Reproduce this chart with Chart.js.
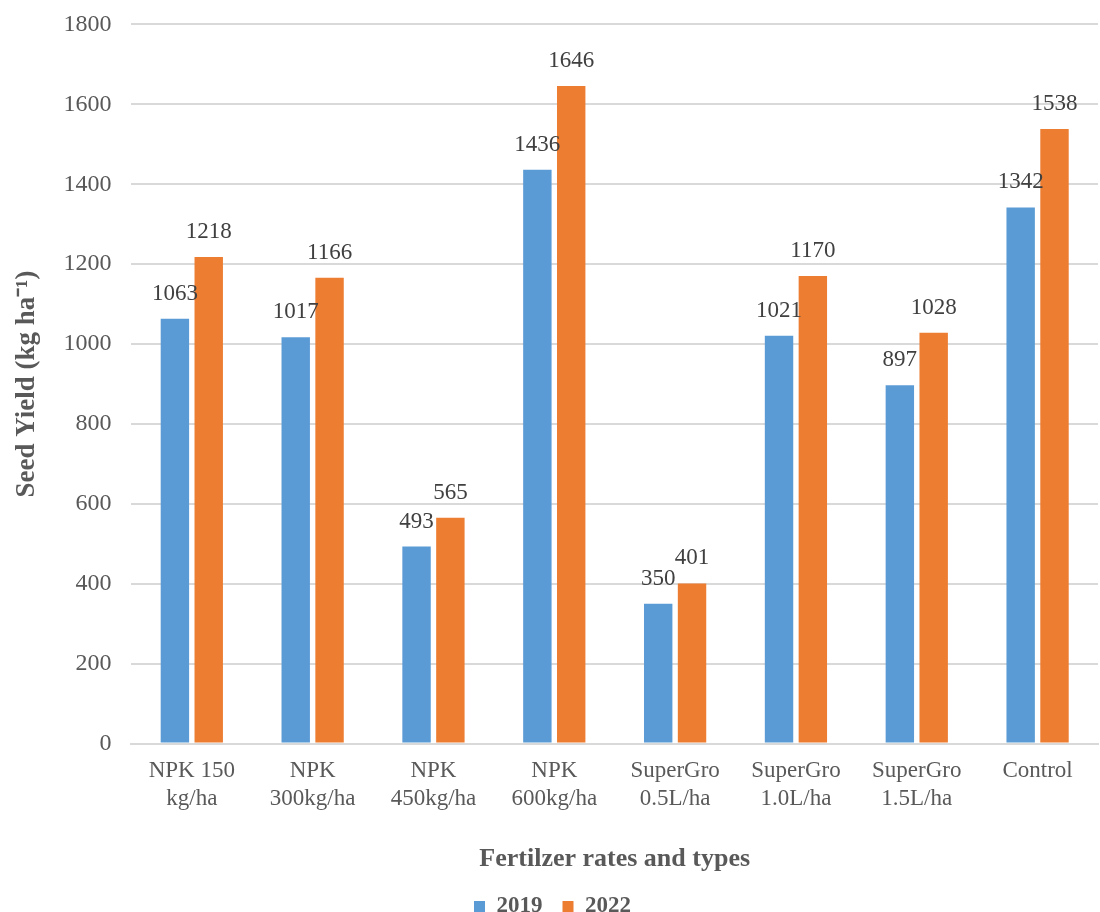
<!DOCTYPE html>
<html lang="en">
<head>
    <meta charset="UTF-8">
    <title>Seed Yield</title>
    <script src="https://cdn.jsdelivr.net/npm/chart.js"></script>
    <style>
        body { margin: 0; background: #fff; overflow: hidden; }
        #wrap { width: 1100px; height: 922px; margin-top: -10px; }
    </style>
</head>
<body>
    <div id="wrap"><canvas id="yieldChart"></canvas></div>

    <script>
        // data
        const categories = [
            ['NPK 150', 'kg/ha'], ['NPK', '300kg/ha'], ['NPK', '450kg/ha'], ['NPK', '600kg/ha'],
            ['SuperGro', '0.5L/ha'], ['SuperGro', '1.0L/ha'], ['SuperGro', '1.5L/ha'], 'Control'
        ];
        const yield2019 = [1063, 1017, 493, 1436, 350, 1021, 897, 1342];
        const yield2022 = [1218, 1166, 565, 1646, 401, 1170, 1028, 1538];
        const yTicks = [0, 200, 400, 600, 800, 1000, 1200, 1400, 1600, 1800];

        const serif = '"Liberation Serif", "Times New Roman", serif';
        const grey = '#595959';

        // value labels above each bar
        const barLabels = {
            id: 'barLabels',
            afterDatasetsDraw(chart) {
                const ctx = chart.ctx;
                ctx.save();
                ctx.font = '23px ' + serif;
                ctx.fillStyle = '#404040';
                ctx.textAlign = 'center';
                ctx.textBaseline = 'middle';
                chart.data.datasets.forEach((ds, i) => {
                    chart.getDatasetMeta(i).data.forEach((bar, j) => {
                        ctx.fillText(ds.data[j], bar.x, bar.y - 25);
                    });
                });
                ctx.restore();
            }
        };

        new Chart(document.getElementById('yieldChart'), {
            type: 'bar',
            data: {
                labels: categories,
                datasets: [
                    { label: '2019', data: yield2019, backgroundColor: '#5B9BD5' },
                    { label: '2022', data: yield2022, backgroundColor: '#ED7D31' }
                ]
            },
            options: {
                responsive: true,
                maintainAspectRatio: false,
                animation: false,
                layout: { autoPadding: false, padding: { left: 7, right: 2, top: 14, bottom: -16 } },
                datasets: { bar: { categoryPercentage: 0.56, barPercentage: 0.84 } },
                scales: {
                    x: {
                        grid: { display: false },
                        border: { color: '#d9d9d9', width: 2 },
                        ticks: { color: grey, font: { family: serif, size: 23 }, padding: 6, maxRotation: 0 },
                        title: {
                            display: true, text: 'Fertilzer rates and types', color: grey,
                            font: { family: serif, size: 26, weight: 'bold' }, padding: { top: 25, bottom: 0 }
                        }
                    },
                    y: {
                        min: 0, max: 1800,
                        afterBuildTicks: axis => { axis.ticks = yTicks.map(v => ({ value: v })); },
                        grid: { color: '#d9d9d9', lineWidth: 2, drawTicks: false },
                        border: { display: false },
                        ticks: { color: grey, font: { family: serif, size: 24 }, padding: 20, callback: v => String(v) },
                        title: {
                            display: true, text: 'Seed Yield (kg ha\u207B\u00B9)', color: grey,
                            font: { family: serif, size: 27, weight: 'bold' }, padding: { bottom: 0 }
                        }
                    }
                },
                plugins: {
                    legend: {
                        position: 'bottom',
                        labels: {
                            color: grey, boxWidth: 11, boxHeight: 11, padding: 20,
                            font: { family: serif, size: 23, weight: 'bold' }
                        }
                    },
                    tooltip: { enabled: false }
                }
            },
            plugins: [barLabels]
        });
    </script>
</body>
</html>
